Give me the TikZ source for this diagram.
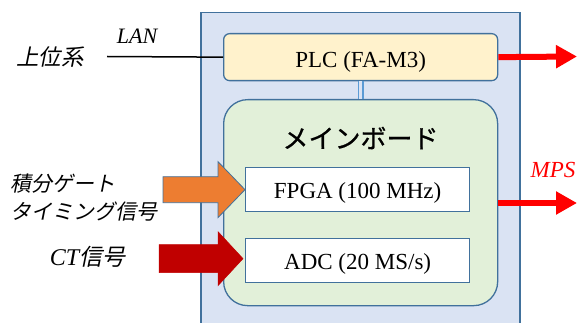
\documentclass[tikz,border=0pt]{standalone}
\usepackage{fontspec}
\setmainfont{Liberation Serif}
\newfontfamily\jpb[FakeBold=0.7]{Noto Sans CJK JP}
\newfontfamily\jpit[FakeSlant=0.2]{Noto Sans CJK JP}
\usetikzlibrary{arrows.meta,calc}
\definecolor{outerfill}{HTML}{DAE3F3}
\definecolor{edgeblue}{HTML}{41719C}
\definecolor{plcfill}{HTML}{FFF2CC}
\definecolor{boardfill}{HTML}{E2F0D9}
\definecolor{linkblue}{HTML}{5B9BD5}
\definecolor{orangeA}{HTML}{ED7D31}
\definecolor{darkredA}{HTML}{C00000}
\definecolor{brightred}{HTML}{FF0000}
\tikzset{
  box/.style={draw=edgeblue, line width=1.3pt, inner sep=0pt, anchor=north west},
  lbl/.style={font=\fontsize{23}{27}\selectfont, inner sep=0pt, anchor=base},
  jplbl/.style={font=\jpit\fontsize{21}{28}\selectfont, inner sep=0pt},
  redline/.style={draw=brightred, line width=6pt, -{Triangle[length=21pt,width=22pt]}},
}
\begin{document}
\begin{tikzpicture}[x=1pt,y=-1pt]
\useasboundingbox (0,0) rectangle (577,323);
% outer frame
\node[box, fill=outerfill, line width=1.5pt, minimum width=319pt, minimum height=330pt] (outer) at (200,12) {};
% PLC
\node[box, fill=plcfill, rounded corners=6pt, minimum width=274pt, minimum height=47pt] (plc) at (223,33) {};
\node[lbl] (plct) at ([yshift=-10.5pt]plc.center) {PLC (FA-M3)};
% main board
\node[box, fill=boardfill, rounded corners=24pt, minimum width=274pt, minimum height=206pt] (board) at (223,99) {};
\node[font=\jpb\fontsize{26}{30}\selectfont, inner sep=0pt] (title) at (360.5,138) {メインボード};
% FPGA and ADC
\node[box, fill=white, minimum width=224pt, minimum height=44pt] (fpga) at (245,167) {};
\node[lbl] (fpgat) at ([yshift=-9pt]fpga.center) {FPGA (100 MHz)};
\node[box, fill=white, minimum width=224pt, minimum height=44pt] (adc) at (245,238) {};
\node[lbl] (adct) at ([yshift=-9pt]adc.center) {ADC (20 MS/s)};
% PLC - board link
\draw[draw=linkblue, double=outerfill, double distance=3.5pt, line width=1.4pt] (plc.south) -- (board.north);
% LAN
\coordinate (lanin) at (107,56.5);
\draw[line width=1.5pt] (lanin) -- (plc.west);
\node[font=\itshape\fontsize{22}{26}\selectfont, inner sep=0pt] (lan) at (137,36) {LAN};
\node[jplbl, font=\jpit\fontsize{22.5}{28}\selectfont] (upper) at (50,57) {上位系};
% input block arrows
\draw[fill=orangeA, draw=edgeblue, line width=0.8pt, shift={(fpga.west)}]
  (0,0) -- (-27,-28) -- (-27,-13) -- (-82,-13) -- (-82,13) -- (-27,13) -- (-27,28) -- cycle;
\draw[fill=darkredA, draw=darkredA, line width=0.5pt, shift={([xshift=-2pt,yshift=2pt]adc.west)}]
  (0,0) -- (-25,-27) -- (-25,-14) -- (-84,-14) -- (-84,14) -- (-25,14) -- (-25,27) -- cycle;
\node[jplbl, anchor=west, align=left] (gate) at (10,198) {積分ゲート\\タイミング信号};
\node[jplbl, font=\jpit\fontsize{23}{28}\selectfont] (ct) at (87.5,257) {{\itshape\rmfamily\fontsize{24}{28}\selectfont CT}信号};
% outputs
\coordinate (plcout) at (577,56.5);
\draw[redline] (plc.east) -- (plcout);
\coordinate (mpsout) at (577,203);
\draw[redline] (board.east |- mpsout) -- (mpsout);
\node[font=\itshape\fontsize{23}{27}\selectfont, text=brightred, inner sep=0pt] (mps) at (553,170) {MPS};
\end{tikzpicture}
\end{document}
